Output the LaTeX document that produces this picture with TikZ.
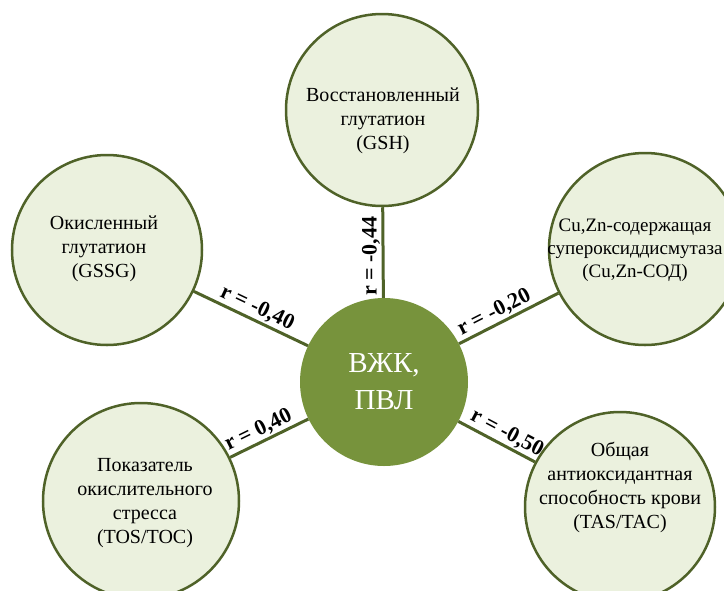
\documentclass[tikz,border=0pt]{standalone}
\usepackage{fontspec}
\setmainfont{Liberation Serif}
\definecolor{cfill}{HTML}{EBF1DE}
\definecolor{cborder}{HTML}{4F6228}
\definecolor{ccenter}{HTML}{77933C}
\begin{document}
\begin{tikzpicture}[x=1pt,y=-1pt,
  outer/.style={circle, draw=cborder, fill=cfill, line width=2.5pt, minimum size=#1, inner sep=0pt},
  txt/.style={align=center, font=\fontsize{20}{24}\selectfont, inner sep=0pt},
  link/.style={draw=cborder, line width=3pt},
  rlab/.style={sloped, above, font=\fontsize{22}{26}\selectfont\bfseries, inner sep=1.5pt}]
\useasboundingbox (0,0) rectangle (724,590);
\clip (0,0) rectangle (724,590);
\node[outer=192pt] (gsh) at (382,110) {};
\node[outer=190pt] (gssg) at (107,250) {};
\node[outer=192pt] (sod) at (645,249) {};
\node[outer=196pt] (tos) at (141,501) {};
\node[outer=190pt] (tas) at (620,507) {};
\node[circle, fill=ccenter, minimum size=168pt, inner sep=0pt, text=white, align=center,
      font=\fontsize{29}{37}\selectfont] (c) at (384,382) {ВЖК,\\ПВЛ};
\draw[link] (c) -- node[pos=0.46, rotate=90, anchor=south, inner sep=1.5pt,
      font=\fontsize{22}{26}\selectfont\bfseries] {r = -0,44} (gsh);
\draw[link] (c) -- node[rlab, pos=0.49] {r = -0,40} (gssg);
\draw[link] (c) -- node[rlab, pos=0.41] {r = -0,20} (sod);
\draw[link] (c) -- node[rlab, pos=0.57] {r = 0,40} (tos);
\draw[link] (c) -- node[rlab, pos=0.56] {r = -0,50} (tas);
\node[txt] (gsht) at (383,121) {Восстановленный\\глутатион\\(GSH)};
\node[txt] (gssgt) at (104,249) {Окисленный\\глутатион\\(GSSG)};
\node[txt, font=\fontsize{19}{23}\selectfont] (sodt) at (635,250) {Cu,Zn-содержащая\\супероксиддисмутаза\\(Cu,Zn-СОД)};
\node[txt] (tost) at (145,503) {Показатель\\окислительного\\стресса\\(TOS/TOC)};
\node[txt] (tast) at (620,487) {Общая\\антиоксидантная\\способность крови\\(TAS/TAC)};
\end{tikzpicture}
\end{document}
